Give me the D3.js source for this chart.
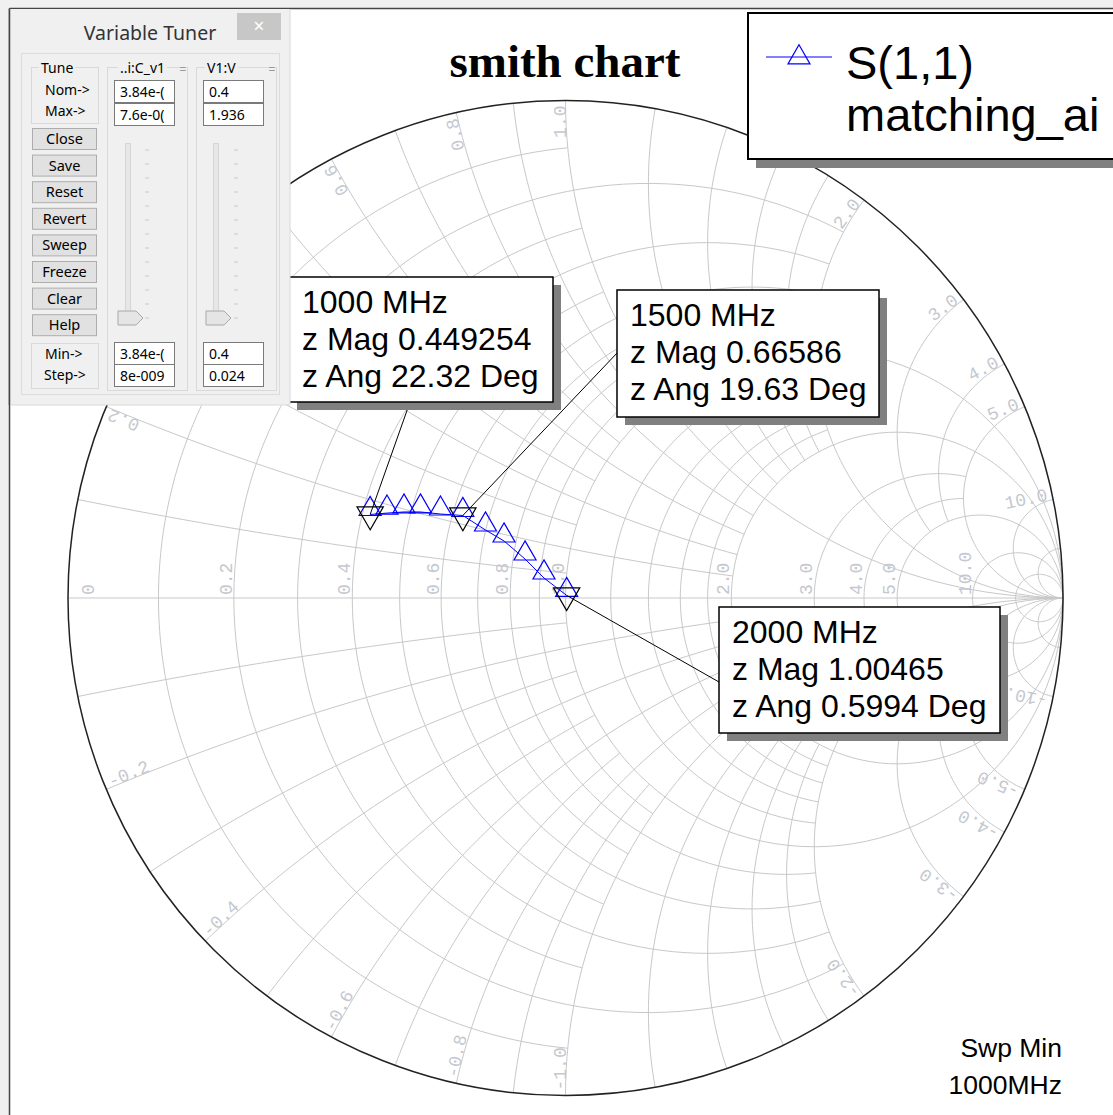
<!DOCTYPE html>
<html>
<head>
<meta charset="utf-8">
<script src="https://cdn.jsdelivr.net/npm/d3@7"></script>
<style>
  body { margin: 0; background: #fff; }
  svg { display: block; }
</style>
</head>
<body>
<svg id="chart" width="1113" height="1115"></svg>
<script>
// ---------------- data ----------------
// S(1,1) trace, shown as normalized impedance z = r + jx
var freqs = [1000, 1100, 1200, 1300, 1400, 1500, 1600, 1700, 1800, 1900, 2000];
var zRe   = [0.4155, 0.449, 0.4845, 0.5213, 0.5697, 0.6271, 0.6993, 0.7617, 0.8399, 0.9143, 1.0046];
var zIm   = [0.1706, 0.182, 0.1938, 0.2037, 0.2118, 0.2237, 0.2001, 0.1797, 0.1334, 0.0738, 0.0105];

// markers (z Mag / z Ang)
var markerFreqs = [1000, 1500, 2000];
var markerMag   = [0.449254, 0.66586, 1.00465];
var markerAng   = [22.32, 19.63, 0.5994];

// grid labels
var rLabels = [0, 0.2, 0.4, 0.6, 0.8, 1.0, 2.0, 3.0, 4.0, 5.0, 10.0];
var xLabels = [0.2, 0.4, 0.6, 0.8, 1.0, 2.0, 3.0, 4.0, 5.0, 10.0];

// grid lines: [value, from, to] of the other coordinate
var rGrid = [[0.1,0,1],[0.2,0,2],[0.3,0,1],[0.4,0,2],[0.5,0,1],[0.6,0,2],[0.7,0,1],[0.8,0,2],[0.9,0,1],
             [1.0,0,Infinity],[1.2,0,2],[1.4,0,2],[1.6,0,2],[1.8,0,2],[2.0,0,Infinity],
             [3.0,0,5],[4.0,0,5],[5.0,0,Infinity],[10.0,0,Infinity],[20.0,0,Infinity]];
var xGrid = [[0.1,0,1],[0.2,0,2],[0.3,0,1],[0.4,0,2],[0.5,0,1],[0.6,0,2],[0.7,0,1],[0.8,0,2],[0.9,0,1],
             [1.0,0,Infinity],[1.2,0,2],[1.4,0,2],[1.6,0,2],[1.8,0,2],[2.0,0,Infinity],
             [3.0,0,5],[4.0,0,5],[5.0,0,Infinity],[10.0,0,Infinity],[20.0,0,Infinity]];

// tuner
var tunerButtons = ["Close", "Save", "Reset", "Revert", "Sweep", "Freeze", "Clear", "Help"];
var tunerCols  = ["..i:C_v1", "V1:V"];
var tunerNom   = ["3.84e-(", "0.4"];
var tunerMax   = ["7.6e-0(", "1.936"];
var tunerMin   = ["3.84e-(", "0.4"];
var tunerStep  = ["8e-009", "0.024"];

// ---------------- setup ----------------
var svg = d3.select("#chart");
var gx = d3.scaleLinear().domain([-1, 1]).range([68, 1063]);
var gy = d3.scaleLinear().domain([-1, 1]).range([1095.5, 100.5]);
var gridColor = "#c8c8c8", labelColor = "#c4c8d0";

function gamma(r, x) {
  if (!isFinite(r) || !isFinite(x)) return [1, 0];
  var d = (r + 1) * (r + 1) + x * x;
  return [(r * r + x * x - 1) / d, 2 * x / d];
}
var line = d3.line().x(d => gx(d[0])).y(d => gy(d[1]));

// constant r arc for |x| between x0 and x1
function rArc(r, x0, x1) {
  var c = r / (1 + r), rho = 1 / (1 + r);
  var ang = function(x) { var g = gamma(r, x); return Math.atan2(g[1], g[0] - c); };
  var segs = [];
  var a0 = ang(x0), a1 = ang(x1);
  if (x0 === 0) {
    segs.push(d3.range(0, 121).map(i => { var t = a1 + (2 * Math.PI - 2 * a1) * i / 120; return [c + rho * Math.cos(t), rho * Math.sin(t)]; }));
  } else {
    [1, -1].forEach(s => {
      segs.push(d3.range(0, 61).map(i => { var t = s * (a0 + (a1 - a0) * i / 60); return [c + rho * Math.cos(t), rho * Math.sin(t)]; }));
    });
  }
  return segs;
}
// constant x arc for r between r0 and r1 (both signs)
function xArc(x, r0, r1) {
  return [x, -x].map(xv => {
    var cyv = 1 / xv, rho = Math.abs(1 / xv);
    var ang = function(r) { var g = gamma(r, xv); return Math.atan2(g[1] - cyv, g[0] - 1); };
    var a0 = ang(r0), a1 = ang(r1);
    var da = a1 - a0;
    while (da > Math.PI) da -= 2 * Math.PI;
    while (da < -Math.PI) da += 2 * Math.PI;
    return d3.range(0, 61).map(i => { var t = a0 + da * i / 60; return [1 + rho * Math.cos(t), cyv + rho * Math.sin(t)]; });
  });
}

// frame
svg.append("rect").attr("x", 0).attr("y", 0).attr("width", 1113).attr("height", 1115).attr("fill", "#fff");
svg.append("rect").attr("x", 0).attr("y", 0).attr("width", 1113).attr("height", 8).attr("fill", "#f0f0f0");
svg.append("rect").attr("x", 0).attr("y", 0).attr("width", 9).attr("height", 1115).attr("fill", "#f0f0f0");
svg.append("line").attr("x1", 9.5).attr("x2", 1113).attr("y1", 8.5).attr("y2", 8.5).attr("stroke", "#444").attr("stroke-width", 1.5);
svg.append("line").attr("x1", 9.5).attr("x2", 9.5).attr("y1", 8.5).attr("y2", 1115).attr("stroke", "#444").attr("stroke-width", 1.5);

// ---------------- grid ----------------
var grid = svg.append("g").attr("fill", "none").attr("stroke", gridColor).attr("stroke-width", 1);
rGrid.forEach(g => rArc(g[0], g[1], g[2]).forEach(seg => grid.append("path").attr("d", line(seg))));
xGrid.forEach(g => xArc(g[0], g[1], g[2]).forEach(seg => grid.append("path").attr("d", line(seg))));
grid.append("line").attr("x1", gx(-1)).attr("x2", gx(1)).attr("y1", gy(0)).attr("y2", gy(0));

// outer circle
svg.append("circle").attr("cx", gx(0)).attr("cy", gy(0)).attr("r", gx(1) - gx(0))
  .attr("fill", "none").attr("stroke", "#222").attr("stroke-width", 1.5);

// grid labels
var lab = svg.append("g").attr("font-family", "'Liberation Mono', monospace").attr("font-size", 18).attr("fill", labelColor);
rLabels.forEach(r => {
  var px = r === 0 ? gx(-1) + 26 : gx((r - 1) / (r + 1)) - 2;
  lab.append("text").attr("transform", "translate(" + px + "," + (gy(0) - 3) + ") rotate(-90)").text(r === 0 ? "0" : r.toFixed(1));
});
var Rpx = gx(1) - gx(0);
xLabels.forEach(xv => {
  [xv, -xv].forEach(v => {
    var g = gamma(0, v), th = Math.atan2(g[1], g[0]);
    var px = gx(0) + (Rpx - 5) * Math.cos(th), py = gy(0) - (Rpx - 5) * Math.sin(th);
    var deg = th * 180 / Math.PI;
    if (v > 0) {
      lab.append("text").attr("text-anchor", "end").attr("transform", "translate(" + px + "," + py + ") rotate(" + (-deg) + ")").text(v.toFixed(1));
    } else {
      lab.append("text").attr("text-anchor", "start").attr("transform", "translate(" + px + "," + py + ") rotate(" + (-(deg + 180)) + ")").text(v.toFixed(1));
    }
  });
});

// ---------------- trace ----------------
var pts = freqs.map((f, i) => gamma(zRe[i], zIm[i]));
svg.append("path").attr("d", line(pts)).attr("fill", "none").attr("stroke", "#0000ff").attr("stroke-width", 1);
var triSize = 210, triH = Math.sqrt(4 * triSize / Math.sqrt(3)) * Math.sqrt(3) / 2;
var tri = d3.symbol().type(d3.symbolTriangle).size(triSize);
// triangles sit with their base just under the point
svg.append("g").selectAll("path").data(pts).join("path")
  .attr("d", tri).attr("transform", d => "translate(" + gx(d[0]) + "," + (gy(d[1]) + 1 - triH / 3) + ")")
  .attr("fill", "none").attr("stroke", "#0000ff").attr("stroke-width", 1.2);

// markers
var mPts = markerMag.map((m, i) => {
  var a = markerAng[i] * Math.PI / 180;
  return gamma(m * Math.cos(a), m * Math.sin(a));
});
var triM = d3.symbol().type(d3.symbolTriangle).size(300);
svg.append("g").selectAll("path").data(mPts).join("path")
  .attr("d", triM).attr("transform", d => "translate(" + gx(d[0]) + "," + gy(d[1]) + ") rotate(180)")
  .attr("fill", "none").attr("stroke", "#000").attr("stroke-width", 1.2);

// marker boxes: [x, y, w, h, anchorX, anchorY]
var boxes = [[289, 277, 264, 125, 410, 402], [617, 290, 262, 127, 618, 352], [719, 607, 281, 126, 719, 682]];
var ann = svg.append("g");
boxes.forEach((b, i) => {
  ann.append("line").attr("x1", gx(mPts[i][0])).attr("y1", gy(mPts[i][1])).attr("x2", b[4]).attr("y2", b[5])
    .attr("stroke", "#000").attr("stroke-width", 1);
  ann.append("rect").attr("x", b[0] + 8).attr("y", b[1] + 8).attr("width", b[2]).attr("height", b[3]).attr("fill", "#808080");
  ann.append("rect").attr("x", b[0]).attr("y", b[1]).attr("width", b[2]).attr("height", b[3])
    .attr("fill", "#fff").attr("stroke", "#000").attr("stroke-width", 1.5);
  var t = ann.append("text").attr("font-family", "'Liberation Sans', Arial, sans-serif").attr("font-size", 32).attr("fill", "#000");
  [markerFreqs[i] + " MHz", "z Mag " + markerMag[i], "z Ang " + markerAng[i] + " Deg"].forEach((s, k) => {
    t.append("tspan").attr("x", b[0] + 13).attr("y", b[1] + 36 + k * 37).text(s);
  });
});

// title
svg.append("text").attr("x", 565).attr("y", 77).attr("text-anchor", "middle")
  .attr("font-family", "'Liberation Serif', 'Times New Roman', serif").attr("font-weight", "bold").attr("font-size", 47)
  .text("smith chart");

// legend
var leg = svg.append("g");
leg.append("rect").attr("x", 756).attr("y", 21).attr("width", 380).attr("height", 147).attr("fill", "#808080");
leg.append("rect").attr("x", 748).attr("y", 13).attr("width", 380).attr("height", 146).attr("fill", "#fff").attr("stroke", "#000").attr("stroke-width", 2);
leg.append("line").attr("x1", 766).attr("x2", 832).attr("y1", 57).attr("y2", 57).attr("stroke", "#0000ff").attr("stroke-width", 1.2);
leg.append("path").attr("d", tri).attr("transform", "translate(799,57.5)").attr("fill", "none").attr("stroke", "#0000ff").attr("stroke-width", 1.2);
leg.append("text").attr("x", 846).attr("y", 79).attr("font-family", "'Liberation Sans', Arial, sans-serif").attr("font-size", 47).text("S(1,1)");
leg.append("text").attr("x", 846).attr("y", 131).attr("font-family", "'Liberation Sans', Arial, sans-serif").attr("font-size", 47).text("matching_ai");

// sweep note
var sw = svg.append("g").attr("font-family", "'Liberation Sans', Arial, sans-serif").attr("font-size", 26.5).attr("text-anchor", "end");
sw.append("text").attr("x", 1062).attr("y", 1057).text("Swp Min");
sw.append("text").attr("x", 1062).attr("y", 1094).text("1000MHz");

// ---------------- tuner window ----------------
var tu = svg.append("g").attr("font-family", "'Noto Sans', 'DejaVu Sans', sans-serif");
tu.append("rect").attr("x", 10).attr("y", 9).attr("width", 280).attr("height", 396).attr("fill", "#f0f0f0");
tu.append("line").attr("x1", 10).attr("x2", 290).attr("y1", 405).attr("y2", 405).attr("stroke", "#dadada");
tu.append("line").attr("x1", 290).attr("x2", 290).attr("y1", 9).attr("y2", 405).attr("stroke", "#dadada");
tu.append("line").attr("x1", 9.5).attr("x2", 9.5).attr("y1", 8.5).attr("y2", 405).attr("stroke", "#444").attr("stroke-width", 1.5);
tu.append("text").attr("x", 150).attr("y", 40).attr("text-anchor", "middle").attr("font-size", 19.5).attr("fill", "#333").text("Variable Tuner");
tu.append("rect").attr("x", 237).attr("y", 13).attr("width", 44).attr("height", 27).attr("fill", "#c7c7c7");
tu.append("text").attr("x", 259).attr("y", 33).attr("text-anchor", "middle").attr("font-size", 19).attr("fill", "#fff").text("\u00d7");
tu.append("rect").attr("x", 21.5).attr("y", 53.5).attr("width", 258).attr("height", 341).attr("fill", "none").attr("stroke", "#dcdcdc");

function groupBox(x, y, w, h, label, lx) {
  tu.append("rect").attr("x", x + 0.5).attr("y", y + 0.5).attr("width", w).attr("height", h).attr("fill", "none").attr("stroke", "#d9d9d9");
  if (label) {
    var t = tu.append("text").attr("x", lx).attr("y", y + 6).attr("font-size", 14).attr("fill", "#000").text(label);
    var bb = t.node().getBBox();
    tu.insert("rect", "text:last-of-type").attr("x", bb.x - 2).attr("y", y - 2).attr("width", bb.width + 4).attr("height", 5).attr("fill", "#f0f0f0");
  }
}
groupBox(31, 67, 67, 56, "Tune", 41);
tu.append("text").attr("x", 45).attr("y", 95).attr("font-size", 14).text("Nom->");
tu.append("text").attr("x", 45).attr("y", 116).attr("font-size", 14).text("Max->");
groupBox(31, 343, 67, 45, null);
tu.append("text").attr("x", 45).attr("y", 359).attr("font-size", 14).text("Min->");
tu.append("text").attr("x", 44).attr("y", 380).attr("font-size", 14).text("Step->");

tunerButtons.forEach((b, i) => {
  var y = 128 + i * 26.6;
  tu.append("rect").attr("x", 32.5).attr("y", y + 0.5).attr("width", 64).attr("height", 21).attr("fill", "#e1e1e1").attr("stroke", "#adadad");
  tu.append("text").attr("x", 64.5).attr("y", y + 16).attr("text-anchor", "middle").attr("font-size", 14.5).text(b);
});

var colX = [107, 196], boxX = [114, 203], trackX = [125, 213], tickX = [145, 234];
tunerCols.forEach((c, i) => {
  groupBox(colX[i], 67, 80, 323, c, colX[i] + (i === 0 ? 13 : 11));
  tu.append("text").attr("x", colX[i] + 76).attr("y", 74).attr("text-anchor", "middle").attr("font-size", 12).attr("fill", "#999").text("=");
  [[80, tunerNom[i]], [103, tunerMax[i]], [342, tunerMin[i]], [364, tunerStep[i]]].forEach(v => {
    tu.append("rect").attr("x", boxX[i] + 0.5).attr("y", v[0] + 0.5).attr("width", 60).attr("height", 22).attr("fill", "#fff").attr("stroke", "#7a7a7a");
    tu.append("text").attr("x", boxX[i] + 6).attr("y", v[0] + 17).attr("font-size", 14).text(v[1]);
  });
  tu.append("rect").attr("x", trackX[i] + 0.5).attr("y", 143.5).attr("width", 5).attr("height", 174).attr("fill", "#e7e7e7").attr("stroke", "#d6d6d6");
  d3.range(13).forEach(k => {
    tu.append("line").attr("x1", tickX[i]).attr("x2", tickX[i] + 4).attr("y1", 150 + k * 14).attr("y2", 150 + k * 14).attr("stroke", "#c8c8c8");
  });
  var tx = trackX[i] - 7;
  tu.append("path").attr("d", "M" + tx + ",311 h18 l7,7 l-7,7 h-18 z").attr("fill", "#e5e5e5").attr("stroke", "#a8a8a8");
});
</script>
</body>
</html>
